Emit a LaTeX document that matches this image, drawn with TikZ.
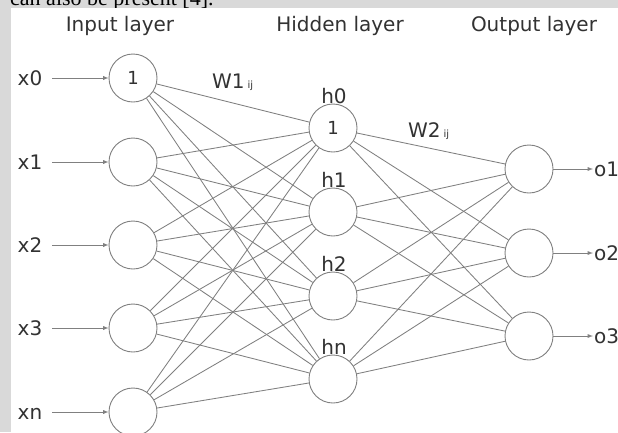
\documentclass[tikz,border=0pt]{standalone}
\usepackage{fontspec}
\setmainfont{DejaVu Sans}
\newfontfamily\serifcap{Liberation Serif}
\usepackage{xcolor}
\usetikzlibrary{
  arrows
}
\definecolor{wiregray}{RGB}{128,128,128}
\definecolor{bandgray}{RGB}{217,217,217}
\definecolor{inkgray}{RGB}{50,50,50}

\begin{document}
\begin{tikzpicture}[x=1pt, y=-1pt, >=latex,
    neuron/.style={circle, draw=wiregray, fill=white, line width=0.9pt,
      minimum size=48pt, inner sep=0pt, text=inkgray,
      font=\fontsize{18}{21}\selectfont},
    wire/.style={draw=wiregray, line width=0.85pt},
    lbl/.style={text=inkgray, font=\fontsize{20}{24}\selectfont,
      text height=14pt, text depth=0pt, inner sep=1pt},
    title/.style={text=inkgray, font=\fontsize{20}{24}\selectfont,
      anchor=base, inner sep=0pt}]
  \def\Xin{133};
  \def\Xhid{333};
  \def\Xout{529};
  \def\Xlab{30};
  \useasboundingbox (0,0) rectangle (618,432);
  \fill[white] (0,0) rectangle (618,432);
  \fill[bandgray] (0,0) rectangle (618,7.5);
  \fill[bandgray] (0,0) rectangle (11,432);
  \begin{scope}
    \clip (0,0) rectangle (618,7.5);
    \node[anchor=base west, inner sep=0pt, font=\serifcap\fontsize{22}{26}\selectfont]
      (caption) at (10,5) {can also be present [4].};
  \end{scope}

        % layer titles
        \node[title] (tin) at (120,31) {Input layer};
        \node[title] (thid) at (340,31) {Hidden layer};
        \node[title] (tout) at (534,31) {Output layer};

        % input layer
        \node[neuron] (x0) at (\Xin, 78) {1};
        \node[neuron] (x1) at (\Xin, 162) {};
        \node[neuron] (x2) at (\Xin, 245) {};
        \node[neuron] (x3) at (\Xin, 328) {};
        \node[neuron] (xn) at (\Xin, 412) {};
        \node[lbl] (lx0) at (\Xlab, 78) {x0};
        \node[lbl] (lx1) at (\Xlab, 162) {x1};
        \node[lbl] (lx2) at (\Xlab, 245) {x2};
        \node[lbl] (lx3) at (\Xlab, 328) {x3};
        \node[lbl] (lxn) at (\Xlab, 412) {xn};

        % hidden layer
        \node[neuron] (h0) at (\Xhid, 128) {1};
        \node[neuron] (h1) at (\Xhid, 212) {};
        \node[neuron] (h2) at (\Xhid, 296) {};
        \node[neuron] (hn) at (\Xhid, 379) {};
        \node[lbl] (lh0) at (\Xhid + 1, 96) {h0};
        \node[lbl] (lh1) at (\Xhid + 1, 180) {h1};
        \node[lbl] (lh2) at (\Xhid + 1, 264) {h2};
        \node[lbl] (lhn) at (\Xhid + 1, 347) {hn};

        % output layer
        \node[neuron] (o1) at (\Xout, 169) {};
        \node[neuron] (o2) at (\Xout, 253) {};
        \node[neuron] (o3) at (\Xout, 336) {};
        \node[lbl, anchor=west] (lo1) at (593, 169) {o1};
        \node[lbl, anchor=west] (lo2) at (593, 253) {o2};
        \node[lbl, anchor=west] (lo3) at (593, 336) {o3};

        % weights
        \node[lbl, anchor=base west, text height=, inner sep=0pt] (w1) at (212,88)
          {W1\hspace{3pt}{\fontsize{10}{12}\selectfont ij}};
        \node[lbl, anchor=base west, text height=, inner sep=0pt] (w2) at (408,137)
          {W2\hspace{3pt}{\fontsize{10}{12}\selectfont ij}};

	\draw[->, wire, shorten <=9pt] (lx0) -- (x0);
	\draw[->, wire, shorten <=9pt] (lx1) -- (x1);
	\draw[->, wire, shorten <=9pt] (lx2) -- (x2);
	\draw[->, wire, shorten <=9pt] (lx3) -- (x3);
	\draw[->, wire, shorten <=9pt] (lxn) -- (xn);

	\draw[wire] (x0) -- (h0) (x0) -- (h1) (x0) -- (h2) (x0) -- (hn);
	\draw[wire] (x1) -- (h0) (x1) -- (h1) (x1) -- (h2) (x1) -- (hn);
	\draw[wire] (x2) -- (h0) (x2) -- (h1) (x2) -- (h2) (x2) -- (hn);
	\draw[wire] (x3) -- (h0) (x3) -- (h1) (x3) -- (h2) (x3) -- (hn);
	\draw[wire] (xn) -- (h0) (xn) -- (h1) (xn) -- (h2) (xn) -- (hn);

	\draw[wire] (h0) -- (o1) (h0) -- (o2) (h0) -- (o3);
	\draw[wire] (h1) -- (o1) (h1) -- (o2) (h1) -- (o3);
	\draw[wire] (h2) -- (o1) (h2) -- (o2) (h2) -- (o3);
	\draw[wire] (hn) -- (o1) (hn) -- (o2) (hn) -- (o3);

	\draw[->, wire] (o1) -- (lo1);
	\draw[->, wire] (o2) -- (lo2);
	\draw[->, wire] (o3) -- (lo3);

\end{tikzpicture}
\end{document}
